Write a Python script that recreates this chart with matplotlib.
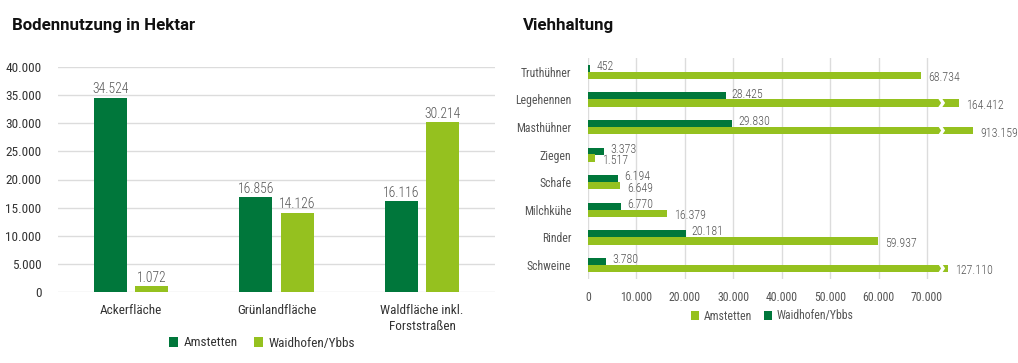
import numpy as np
import matplotlib
matplotlib.use("Agg")
import matplotlib.pyplot as plt
from matplotlib import patches

# Bodennutzung in Hektar
boden_cats = ["Ackerfläche", "Grünlandfläche", "Waldfläche inkl.\nForststraßen"]
boden_amstetten = [34524, 16856, 16116]
boden_waidhofen = [1072, 14126, 30214]
boden_ticks = [0, 5000, 10000, 15000, 20000, 25000, 30000, 35000, 40000]

# Viehhaltung
vieh_cats = ["Truthühner", "Legehennen", "Masthühner", "Ziegen", "Schafe",
             "Milchkühe", "Rinder", "Schweine"]
vieh_waidhofen = [452, 28425, 29830, 3373, 6194, 6770, 20181, 3780]
vieh_amstetten = [68734, 164412, 913159, 1517, 6649, 16379, 59937, 127110]
# Balkenlänge wie im Bild (lange Balken sind gekürzt, None = nicht gekürzt)
vieh_amstetten_kurz = [None, 76700, 79600, None, None, None, None, 74400]
vieh_ticks = [0, 10000, 20000, 30000, 40000, 50000, 60000, 70000]

DUNKEL = "#00773b"
HELL = "#95c11f"
GRAU = "#555555"
GITTER = "#dcdcdc"
FONT = ["Roboto Condensed", "Roboto", "DejaVu Sans"]


def fmt(v):
    return f"{v:,}".replace(",", ".")


plt.rcParams["font.family"] = FONT
W, H = 1018, 363
fig = plt.figure(figsize=(W / 100, H / 100), dpi=100)

fig.text(12 / W, 1 - 30 / H, "Bodennutzung in Hektar", fontsize=12.2,
         weight="bold", family=["Roboto", "DejaVu Sans"], va="baseline", color="#111111")
fig.text(523 / W, 1 - 30 / H, "Viehhaltung", fontsize=12.2,
         weight="bold", family=["Roboto", "DejaVu Sans"], va="baseline", color="#111111")

# ---- links: Bodennutzung
ax1 = fig.add_axes([58 / W, 1 - 292 / H, (495 - 58) / W, (292 - 67) / H])
x = np.arange(len(boden_cats))
bw = 0.225
b1 = ax1.bar(x - 0.142, boden_amstetten, bw, color=DUNKEL, zorder=3, label="Amstetten")
b2 = ax1.bar(x + 0.142, boden_waidhofen, bw, color=HELL, zorder=3, label="Waidhofen/Ybbs")
for bars in (b1, b2):
    for r in bars:
        ax1.text(r.get_x() + r.get_width() / 2, r.get_height() + 250, fmt(int(r.get_height())),
                 ha="center", va="bottom", fontsize=9.8, color=GRAU, weight="light")
ax1.set_xlim(-0.5, 2.5)
ax1.set_ylim(0, 40000)
ax1.set_yticks(boden_ticks)
ax1.set_yticklabels([fmt(t) for t in boden_ticks])
ax1.set_xticks(x)
ax1.set_xticklabels(boden_cats, linespacing=1.3)
ax1.tick_params(axis="y", length=0, pad=12, labelsize=9.5, labelcolor="#333333")
ax1.tick_params(axis="x", length=0, pad=9, labelsize=9.5, labelcolor="#333333")
ax1.grid(axis="y", color=GITTER, lw=1, zorder=0)
ax1.set_axisbelow(True)
for s in ax1.spines.values():
    s.set_visible(False)
ax1.legend(loc="center", bbox_to_anchor=(262 / W, 1 - 343 / H), bbox_transform=fig.transFigure,
           ncol=2, frameon=False, fontsize=9.5, handlelength=0.7, handleheight=0.7,
           handletextpad=0.4, columnspacing=1.2, labelcolor="#333333")

# ---- rechts: Viehhaltung
ax2 = fig.add_axes([588 / W, 1 - 278.6 / H, (980 - 588) / W, (278.6 - 58) / H])
y = np.arange(len(vieh_cats))
bh = 0.25
laenge = [k if k is not None else v for v, k in zip(vieh_amstetten, vieh_amstetten_kurz)]
ax2.barh(y - 0.125, vieh_waidhofen, bh, color=DUNKEL, zorder=3, label="Waidhofen/Ybbs")
ax2.barh(y + 0.13, laenge, bh + 0.02, color=HELL, zorder=3, label="Amstetten")

px = 70000 / (927 - 588)  # Dateneinheiten pro Pixel
for i in range(len(vieh_cats)):
    ax2.text(vieh_waidhofen[i] + 6 * px, y[i] - 0.19, fmt(vieh_waidhofen[i]),
             ha="left", va="center", fontsize=8.6, color=GRAU, weight="light")
    ax2.text(laenge[i] + 7 * px, y[i] + 0.22, fmt(vieh_amstetten[i]),
             ha="left", va="center", fontsize=8.6, color=GRAU, weight="light")
    if vieh_amstetten_kurz[i] is not None:
        x0 = 72300
        d = 3 * px
        w = 4 * px
        yt, yb = y[i] + 0.13 - 0.16, y[i] + 0.13 + 0.16
        ym = y[i] + 0.13
        poly = patches.Polygon([(x0, yt), (x0 + d, ym), (x0, yb), (x0 + w, yb),
                                (x0 + w + d, ym), (x0 + w, yt)],
                               closed=True, color="white", zorder=4, lw=0)
        ax2.add_patch(poly)

ax2.set_xlim(0, 80950)
ax2.set_ylim(len(vieh_cats) - 0.5, -0.5)
ax2.set_xticks(vieh_ticks)
ax2.set_xticklabels([fmt(t) for t in vieh_ticks])
ax2.set_yticks(y)
ax2.set_yticklabels(vieh_cats)
ax2.tick_params(axis="y", length=0, pad=12, labelsize=8.5, labelcolor=GRAU)
ax2.tick_params(axis="x", length=0, pad=9, labelsize=8.5, labelcolor=GRAU)
ax2.grid(axis="x", color=GITTER, lw=1, zorder=0)
ax2.set_axisbelow(True)
for s in ax2.spines.values():
    s.set_visible(False)
h, l = ax2.get_legend_handles_labels()
ax2.legend(h[::-1], l[::-1], loc="center", bbox_to_anchor=(772 / W, 1 - 316 / H),
           bbox_transform=fig.transFigure, ncol=2, frameon=False, fontsize=8.5,
           handlelength=0.7, handleheight=0.7, handletextpad=0.4, columnspacing=1.0,
           labelcolor=GRAU)

fig.savefig("out.png", dpi=100)
